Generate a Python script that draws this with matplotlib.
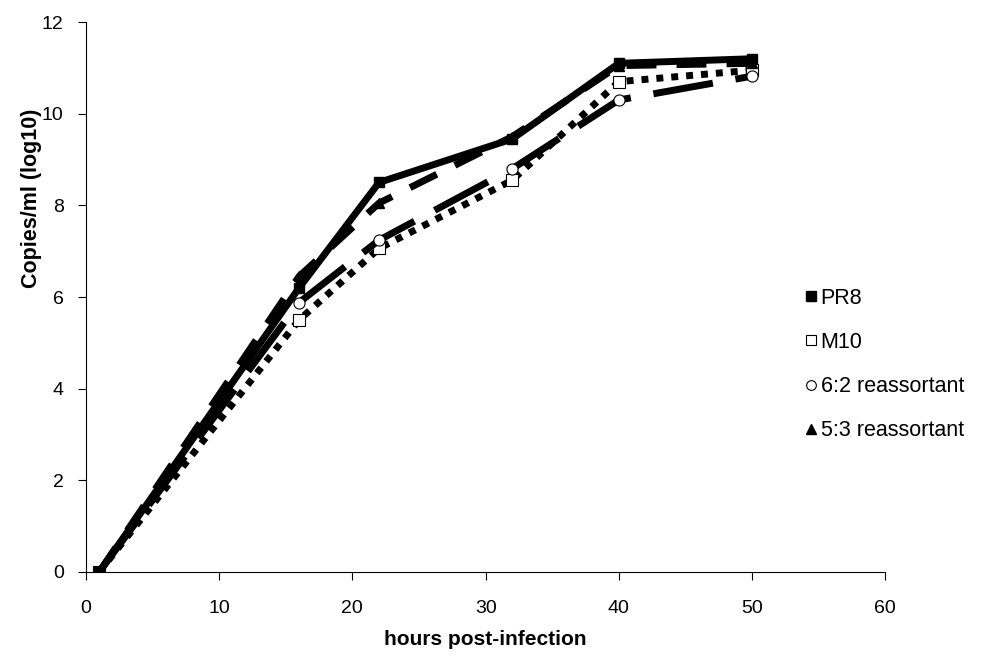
import matplotlib
matplotlib.use("Agg")
import matplotlib.pyplot as plt
from matplotlib.lines import Line2D

plt.rcParams["font.family"] = ["Liberation Sans", "DejaVu Sans"]

# hours post-infection
hours = [1, 16, 22, 32, 40, 50]

# copies/ml (log10)
pr8 = [0, 6.2, 8.5, 9.45, 11.1, 11.2]
m10 = [0, 5.5, 7.06, 8.55, 10.7, 10.95]
r62 = [0, 5.88, 7.24, 8.8, 10.3, 10.82]
r53 = [0, 6.45, 8.05, 9.5, 11.05, 11.1]

labels = ["PR8", "M10", "6:2 reassortant", "5:3 reassortant"]

fig = plt.figure(figsize=(9.87, 6.69), dpi=100)
ax = fig.add_axes([0.087, 0.145, 0.81, 0.822])

lw = 5
ax.plot(hours, pr8, color="black", lw=lw, ls="-",
        marker="s", ms=7, mfc="black", mec="black", zorder=5)
ax.plot(hours, m10, color="black", lw=lw, ls=(0, (1, 1.15)),
        marker="s", ms=8, mfc="white", mec="black", mew=0.8, zorder=3)
ax.plot(hours, r62, color="black", lw=lw, ls=(0, (8.7, 3.3)),
        marker="o", ms=8, mfc="white", mec="black", mew=0.8, zorder=4)
ax.plot(hours, r53, color="black", lw=lw, ls=(0, (4.3, 2.9)),
        marker="^", ms=7, mfc="black", mec="black", zorder=4)

ax.set_xlim(0, 60)
ax.set_ylim(0, 12)
ax.set_xticks(range(0, 61, 10))
ax.set_yticks(range(0, 13, 2))

for s in ["top", "right"]:
    ax.spines[s].set_visible(False)
for s in ["left", "bottom"]:
    ax.spines[s].set_linewidth(0.8)

ax.tick_params(direction="out", length=6, width=0.8, labelsize=14)
ax.tick_params(axis="x", pad=14)
ax.tick_params(axis="y", pad=10)
ax.set_xlabel("hours post-infection", fontsize=15, fontweight="bold")
ax.xaxis.set_label_coords(0.5, -0.105)
ax.set_ylabel("Copies/ml (log10)", fontsize=15.5, fontweight="bold")
ax.yaxis.set_label_coords(-0.055, 0.68)

# legend shows only the markers
handles = [
    Line2D([], [], ls="none", marker="s", ms=7, mfc="black", mec="black"),
    Line2D([], [], ls="none", marker="s", ms=7, mfc="white", mec="black", mew=0.8),
    Line2D([], [], ls="none", marker="o", ms=7, mfc="white", mec="black", mew=0.8),
    Line2D([], [], ls="none", marker="^", ms=7, mfc="black", mec="black"),
]
fig.legend(handles, labels, loc="center left", bbox_to_anchor=(0.815, 0.455),
           frameon=False, fontsize=15.5, handlelength=0.6, handletextpad=0.15,
           labelspacing=1.08, borderpad=0, borderaxespad=0)

fig.savefig("out.png", dpi=100)
